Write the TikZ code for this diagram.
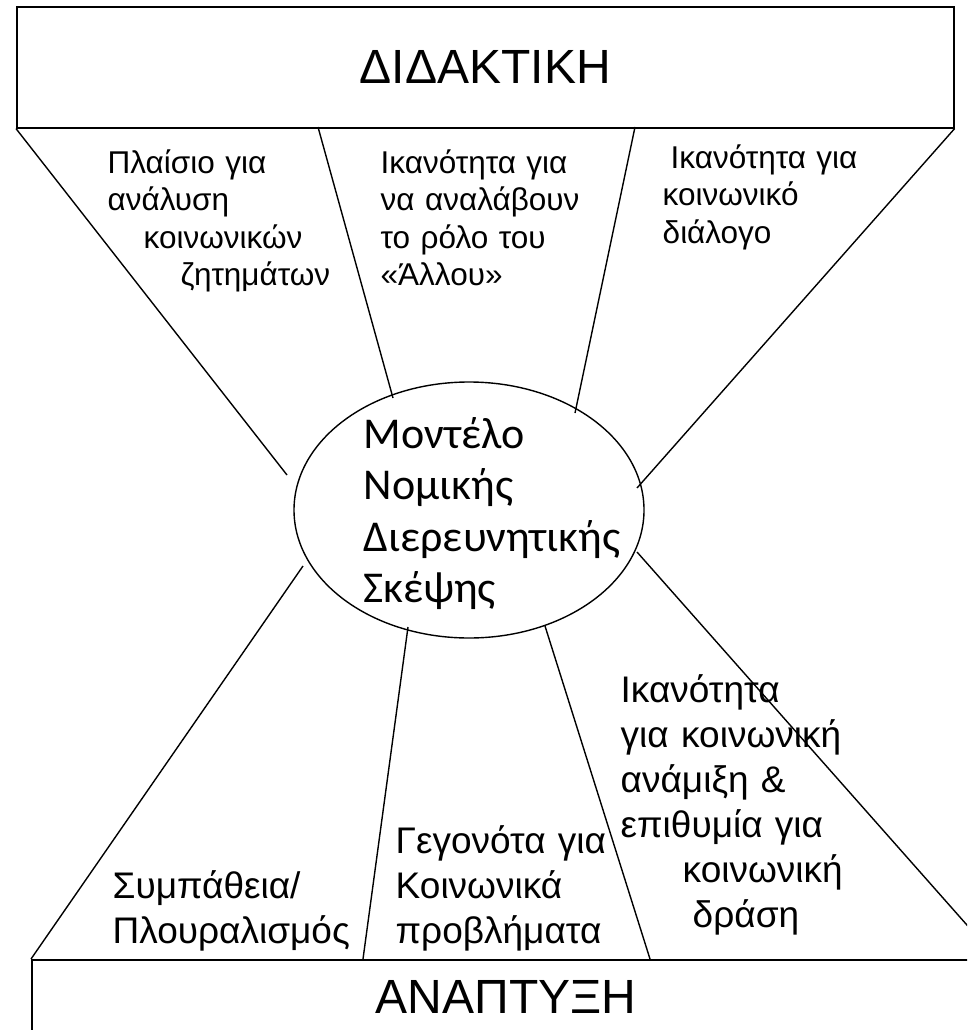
\documentclass[tikz,border=0pt]{standalone}
\usepackage{fontspec}
\setmainfont{Liberation Sans}
\newfontfamily\ellfont{Carlito}
\usetikzlibrary{shapes.geometric}
\begin{document}
\begin{tikzpicture}[x=1pt,y=-1pt,line width=1.4pt,
  boxstyle/.style={draw,line width=1.6pt,rectangle,inner sep=0pt,anchor=north west},
  bigtext/.style={inner sep=0pt,font=\fontsize{48}{56}\selectfont},
  toplabel/.style={anchor=base west,inner sep=0pt,align=left,text width=300pt,font=\fontsize{31.5}{37.5}\selectfont},
  botlabel/.style={anchor=base west,inner sep=0pt,align=left,text width=300pt,font=\fontsize{37}{45}\selectfont},
  spoke/.style={draw,line width=1.4pt}]
\useasboundingbox (0,0) rectangle (967,1030);
\clip (0,0) rectangle (967,1030);
\fill[white] (0,0) rectangle (967,1030);
% boxes
\node[boxstyle,minimum width=937pt,minimum height=121pt] (top) at (16,6) {};
\node[bigtext] (toptext) at (top.center) {ΔΙΔΑΚΤΙΚΗ};
\node[boxstyle,minimum width=1000pt,minimum height=200pt] (bot) at (31,959) {};
\node[bigtext,anchor=base] (bottext) at (506,1013) {ΑΝΑΠΤΥΞΗ};
% ellipse
\node[draw,ellipse,line width=1.4pt,minimum width=350pt,minimum height=256pt,inner sep=0pt] (ell) at (469,510) {};
\node[anchor=base west,inner sep=0pt,align=left,text width=300pt,font={\ellfont\fontsize{44}{51.5}\selectfont}] (elltext) at (363,448)
  {Μοντέλο\\Νομικής\\Διερευνητικής\\Σκέψης};
% spoke ends
\coordinate (t2) at (318,127);
\coordinate (t3) at (635,127);
\coordinate (e1) at (287,475);
\coordinate (e2) at (393,398);
\coordinate (e3) at (575,413);
\coordinate (e4) at (637,488);
\coordinate (e5) at (303,566);
\coordinate (e6) at (408,627);
\coordinate (e7) at (545,626);
\coordinate (e8) at (637,552);
\coordinate (b6) at (363,959);
\coordinate (b7) at (650,959);
\coordinate (b8) at (997,959);
\draw[spoke] (top.south west) -- (e1);
\draw[spoke] (t2) -- (e2);
\draw[spoke] (t3) -- (e3);
\draw[spoke] (top.south east) -- (e4);
\draw[spoke] (e5) -- (bot.north west);
\draw[spoke] (e6) -- (b6);
\draw[spoke] (e7) -- (b7);
\draw[spoke] (e8) -- (b8);
% labels
\node[toplabel] (la) at (107,173) {Πλαίσιο για\\ανάλυση\\\hspace*{36pt}κοινωνικών\\\hspace*{73pt}ζητημάτων};
\node[toplabel] (lb) at (380,173) {Ικανότητα για\\να αναλάβουν\\το ρόλο του\\«Άλλου»};
\node[toplabel] (lc) at (662,168) {\hspace*{8pt}Ικανότητα για\\κοινωνικό\\διάλογο};
\node[botlabel] (ld) at (112,898) {Συμπάθεια/\\Πλουραλισμός};
\node[botlabel] (le) at (395,853) {Γεγονότα για\\Κοινωνικά\\προβλήματα};
\node[botlabel] (lf) at (620,702) {Ικανότητα\\για κοινωνική\\ανάμιξη \&\\επιθυμία για\\\hspace*{62pt}κοινωνική\\\hspace*{72pt}δράση};
\end{tikzpicture}
\end{document}
